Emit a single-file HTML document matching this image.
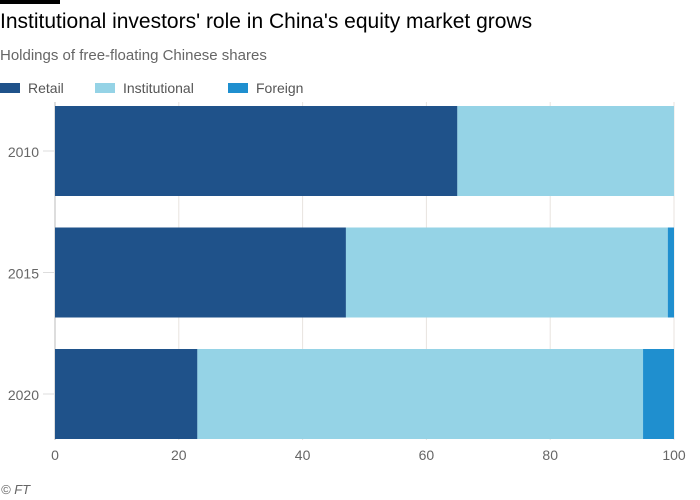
<!DOCTYPE html>
<html><head><meta charset="utf-8"><style>
body{margin:0;width:700px;height:500px;background:#fff;font-family:"Liberation Sans",sans-serif;overflow:hidden;position:relative}
.t{position:absolute;white-space:nowrap}
</style></head><body>
<div style="position:absolute;left:0;top:0;width:60px;height:4px;background:#000"></div>
<div class="t" style="left:0;top:10px;font-size:21px;color:#000">Institutional investors' role in China's equity market grows</div>
<div class="t" style="left:0;top:47px;font-size:15px;color:#666">Holdings of free-floating Chinese shares</div>
<svg id="c" width="700" height="500" style="position:absolute;left:0;top:0"></svg>
<div class="t" style="left:1px;top:482px;font-size:13px;font-style:italic;color:#666">© FT</div>
<script>
const categories=["2010","2015","2020"];
const retail=[65,47,23];
const institutional=[35,52,72];
const foreign=[0,1,5];
const seriesNames=["Retail","Institutional","Foreign"];
const xTicks=[0,20,40,60,80,100];
const colors=["#1f528a","#95d3e6","#1f8fcf"];
const svg=document.getElementById('c');const NS="http://www.w3.org/2000/svg";
function x(v){return 55+v*6.19;}
const bh=90;
function y(i){return 106+i*121.5;}
function mk(t,a){const e=document.createElementNS(NS,t);for(const k in a)e.setAttribute(k,a[k]);svg.appendChild(e);return e;}
const lx=[0,95,228];
seriesNames.forEach((n,i)=>{
 const r=mk('rect',{x:lx[i],y:83,width:20,height:10,fill:colors[i]});
 
 
 const t=mk('text',{x:lx[i]+28,y:93,'font-size':14,fill:'#555','font-family':'Liberation Sans'});t.textContent=n;
 
 
});
xTicks.forEach(v=>{
 const l=mk('line',{x1:x(v),x2:x(v),y1:102,y2:440,stroke:v==0?'#bbb':'#e8e3df','stroke-width':1});
 
 
 const t=mk('text',{x:x(v),y:460,'font-size':14,fill:'#666','text-anchor':'middle','font-family':'Liberation Sans'});t.textContent=v;
 
 
});
const series=[retail,institutional,foreign];
categories.forEach((c,i)=>{
 let acc=0;
 series.forEach((s,j)=>{
  const v=s[i];
  if(v>0){const r=mk('rect',{x:x(acc),y:y(i),width:x(acc+v)-x(acc),height:bh,fill:colors[j]});
  
  }
  acc+=v;
 });
 mk('line',{x1:43,x2:55,y1:y(i)+bh/2,y2:y(i)+bh/2,stroke:'#ddd'});
 const t=mk('text',{x:39,y:y(i)+bh/2+6,'font-size':14,fill:'#666','text-anchor':'end','font-family':'Liberation Sans'});t.textContent=c;
 
 
});
</script>
</body></html>
